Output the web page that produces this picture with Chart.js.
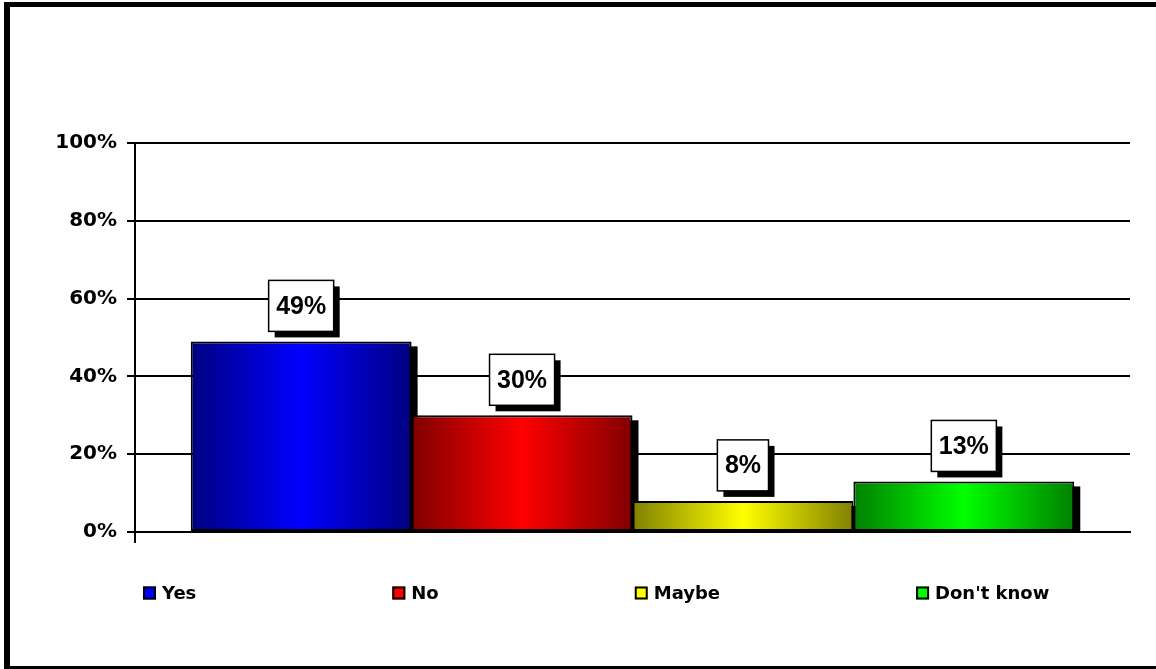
<!DOCTYPE html>
<html>
<head>
<meta charset="utf-8">
<script src="https://cdn.jsdelivr.net/npm/chart.js@4.4.1/dist/chart.umd.min.js"></script>
<style>
  html, body { margin: 0; padding: 0; background: #fff; width: 1156px; height: 669px; overflow: hidden; }
  #frame {
    position: absolute; left: 4px; top: 2px; width: 1200px; height: 659px;
    border-left: 6px solid #000; border-top: 5px solid #000; border-bottom: 6px solid #000;
  }
  #chart { position: absolute; left: 0; top: 0; }
</style>
</head>
<body>
<div id="frame"></div>
<canvas id="chart" width="1156" height="669"></canvas>
<script>
// data
const categories = [""];
const seriesNames = ["Yes", "No", "Maybe", "Don't know"];
const yesValues = [49];
const noValues = [30];
const maybeValues = [8];
const dontKnowValues = [13];
const yTicks = [0, 20, 40, 60, 80, 100];

// colours: edge shade and centre shade of each bar
const darkColors = ["#000080", "#800000", "#808000", "#008000"];
const brightColors = ["#0000ff", "#ff0000", "#ffff00", "#00ff00"];

const allValues = [yesValues, noValues, maybeValues, dontKnowValues];

// gradient fill + drop shadow behind the bars
const barLook = {
  id: "barLook",
  beforeDatasetsDraw(chart) {
    const ctx = chart.ctx;
    const area = chart.chartArea;
    ctx.save();
    ctx.beginPath();
    ctx.rect(area.left, area.top - 20, area.right - area.left + 20, area.bottom - area.top + 20);
    ctx.clip();
    ctx.fillStyle = "#000";
    chart.data.datasets.forEach((ds, i) => {
      chart.getDatasetMeta(i).data.forEach((el) => {
        const left = el.x - el.width / 2;
        ctx.fillRect(left + 6, el.y + 5, el.width, el.base - el.y);
        const g = ctx.createLinearGradient(left, 0, left + el.width, 0);
        g.addColorStop(0, darkColors[i]);
        g.addColorStop(0.5, brightColors[i]);
        g.addColorStop(1, darkColors[i]);
        el.options = Object.assign({}, el.options, { backgroundColor: g });
      });
    });
    ctx.restore();
  },
};

// boxed value labels above the bars
const valueBoxes = {
  id: "valueBoxes",
  afterDatasetsDraw(chart) {
    const ctx = chart.ctx;
    ctx.save();
    ctx.font = "bold 25px 'Liberation Sans', Arial, sans-serif";
    ctx.textAlign = "center";
    ctx.textBaseline = "middle";
    chart.data.datasets.forEach((ds, i) => {
      chart.getDatasetMeta(i).data.forEach((el, j) => {
        const txt = ds.data[j] + "%";
        const w = ctx.measureText(txt).width + 15;
        const h = 51;
        const bottom = el.y - 10;
        const left = el.x - w / 2;
        ctx.fillStyle = "#000";
        ctx.fillRect(left + 6, bottom - h + 6, w, h);
        ctx.fillStyle = "#fff";
        ctx.fillRect(left, bottom - h, w, h);
        ctx.lineWidth = 1.5;
        ctx.strokeStyle = "#000";
        ctx.strokeRect(left, bottom - h, w, h);
        ctx.fillStyle = "#000";
        ctx.fillText(txt, el.x, bottom - h / 2 + 1);
      });
    });
    ctx.restore();
  },
};

// legend row under the plot
const bottomLegend = {
  id: "bottomLegend",
  afterDraw(chart) {
    const ctx = chart.ctx;
    const area = chart.chartArea;
    const y = area.bottom + 61;
    let x = area.left + 8;
    ctx.save();
    ctx.font = "bold 18px 'DejaVu Sans', sans-serif";
    ctx.textBaseline = "middle";
    ctx.textAlign = "left";
    chart.data.datasets.forEach((ds, i) => {
      ctx.fillStyle = brightColors[i];
      ctx.fillRect(x, y - 6.5, 13, 13);
      ctx.lineWidth = 2;
      ctx.strokeStyle = "#000";
      ctx.strokeRect(x + 1, y - 5.5, 11, 11);
      ctx.fillStyle = "#000";
      ctx.fillText(ds.label, x + 19, y + 1);
      x += 19 + ctx.measureText(ds.label).width + 196;
    });
    ctx.restore();
  },
};

Chart.defaults.font.family = "'DejaVu Sans', sans-serif";
Chart.defaults.color = "#000";

new Chart(document.getElementById("chart"), {
  type: "bar",
  data: {
    labels: categories,
    datasets: seriesNames.map((name, i) => ({
      label: name,
      data: allValues[i],
      backgroundColor: brightColors[i],
      borderColor: "#000",
      borderWidth: 2,
      borderSkipped: false,
    })),
  },
  options: {
    responsive: false,
    animation: false,
    devicePixelRatio: 1,
    categoryPercentage: 0.888,
    barPercentage: 1,
    layout: { padding: { left: 0, right: 26, top: 143, bottom: 126 } },
    plugins: {
      legend: { display: false },
      tooltip: { enabled: false },
    },
    scales: {
      x: {
        ticks: { display: false },
        grid: {
          drawOnChartArea: false,
          drawTicks: true,
          tickLength: 11,
          lineWidth: 2,
          color: (c) => (c.index === 0 ? "#000" : "rgba(0,0,0,0)"),
        },
        border: { display: true, color: "#000", width: 2 },
        afterFit: (s) => { s.height = 11; },
      },
      y: {
        min: 0,
        max: 100,
        afterBuildTicks: (s) => { s.ticks = yTicks.map((v) => ({ value: v })); },
        ticks: {
          padding: 10,
          font: { size: 20, weight: "bold" },
          color: "#000",
          callback: (v) => v + "%",
        },
        grid: { color: "#000", lineWidth: 2, tickLength: 8 },
        border: { display: true, color: "#000", width: 2 },
        afterFit: (s) => { s.width = 135; },
      },
    },
  },
  plugins: [barLook, valueBoxes, bottomLegend],
});
</script>
</body>
</html>
